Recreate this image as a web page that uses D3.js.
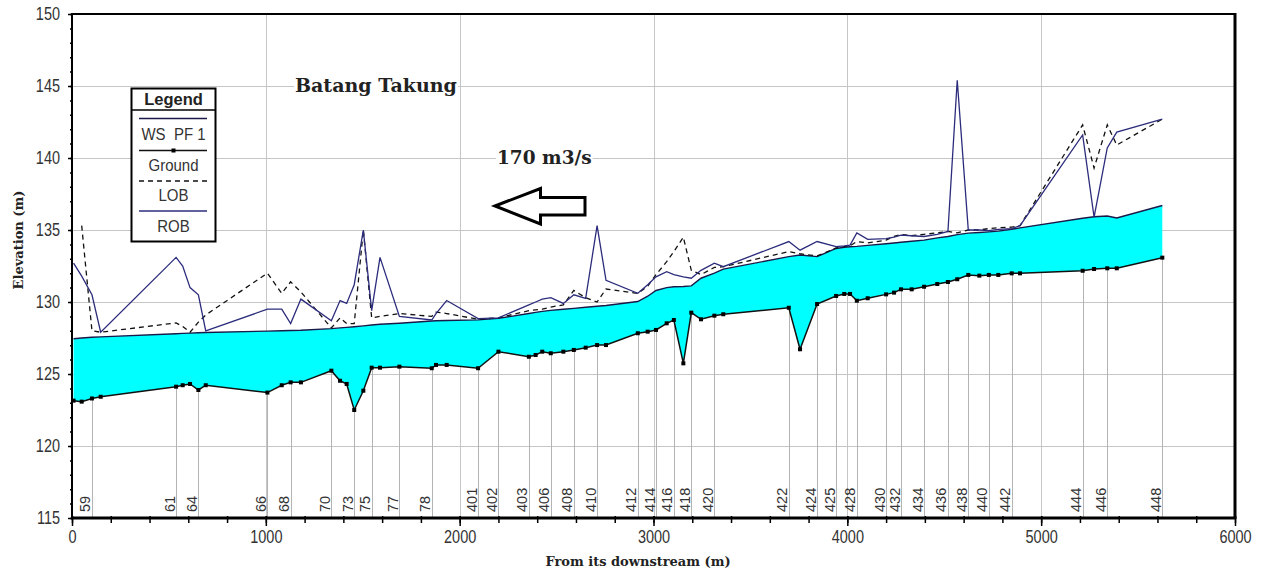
<!DOCTYPE html>
<html>
<head>
<meta charset="utf-8">
<script src="https://cdn.jsdelivr.net/npm/d3@7"></script>
<style>
  html, body { margin: 0; padding: 0; background: #fff; }
  svg { display: block; }
</style>
</head>
<body>
<svg id="chart" width="1265" height="573"></svg>
<script>
// Longitudinal profile of Batang Takung, stations measured from the downstream end (m)
const stations = [8, 50, 103, 148, 537, 571, 609, 652, 690, 1008, 1082, 1128, 1181, 1338, 1383, 1417, 1456, 1503, 1546, 1589,
  1689, 1856, 1878, 1933, 2095, 2200, 2357, 2392, 2426, 2470, 2535, 2589, 2650, 2709, 2755, 2919, 2970, 3013, 3068, 3105,
  3154, 3195, 3245, 3314, 3360, 3698, 3756, 3844, 3942, 3984, 4014, 4049, 4105, 4200, 4241, 4277, 4332, 4396, 4464, 4519,
  4567, 4624, 4681, 4730, 4779, 4848, 4891, 5214, 5273, 5341, 5390, 5625];

// Channel bed (minimum ground elevation), m
const groundElev = [123.15, 123.08, 123.30, 123.42, 124.12, 124.22, 124.31, 123.89, 124.22, 123.71,
  124.22, 124.42, 124.42, 125.23, 124.53, 124.31, 122.50, 123.84, 125.44, 125.44,
  125.51, 125.40, 125.63, 125.63, 125.40, 126.55, 126.20, 126.32, 126.55, 126.44,
  126.55, 126.67, 126.83, 127.01, 127.01, 127.83, 127.94, 128.06, 128.52, 128.75,
  125.74, 129.26, 128.80, 129.05, 129.15, 129.60, 126.72, 129.86, 130.42, 130.56,
  130.56, 130.09, 130.26, 130.53, 130.65, 130.88, 130.88, 131.06, 131.25, 131.39,
  131.58, 131.88, 131.83, 131.88, 131.88, 131.99, 131.99, 132.17, 132.29, 132.34, 132.34, 133.08];

// Water surface, profile PF 1 (170 m3/s)
const wsElev = [127.45, 127.50, 127.55, 127.58, 127.80, 127.82, 127.84, 127.86, 127.88, 127.98,
  128.00, 128.02, 128.04, 128.15, 128.20, 128.24, 128.28, 128.34, 128.40, 128.45,
  128.52, 128.68, 128.70, 128.72, 128.76, 128.86, 129.20, 129.28, 129.35, 129.42,
  129.50, 129.56, 129.64, 129.70, 129.76, 130.03, 130.40, 130.80, 131.00, 131.06,
  131.08, 131.12, 131.65, 132.00, 132.28, 133.15, 133.26, 133.15, 133.72, 133.80,
  133.84, 133.86, 133.93, 134.05, 134.10, 134.15, 134.22, 134.30, 134.45, 134.55,
  134.68, 134.78, 134.83, 134.87, 134.92, 135.05, 135.15, 135.82, 135.92, 135.97, 135.83, 136.70];

// Left overbank station elevation (first section has none)
const lobElev = [null, 135.3, 128.0, 127.9, 128.55, 128.3, 127.9, 128.6, 129.1, 132.0,
  130.6, 131.4, 130.7, 128.2, 128.9, 128.5, 128.5, 135.0, 128.9, 129.0,
  129.2, 129.0, 129.3, 129.2, 128.8, 128.9, 129.4, 129.45, 129.5, 129.65,
  129.8, 130.8, 130.3, 130.0, 130.9, 130.6, 131.1, 131.9, 132.8, 133.5,
  134.5, 132.2, 131.9, 132.4, 132.45, 133.5, 133.35, 133.2, 133.75, 133.85,
  133.9, 134.2, 134.1, 134.3, 134.55, 134.7, 134.6, 134.7, 134.8, 134.9,
  134.8, 135.0, 135.0, 135.1, 135.15, 135.2, 135.3, 142.3, 139.3, 142.3, 140.9, 142.7];

// Right overbank station elevation
const robElev = [132.7, 131.8, 130.5, 127.9, 133.1, 132.5, 131.0, 130.5, 128.0, 129.5,
  129.5, 128.5, 130.2, 128.7, 130.1, 129.9, 131.2, 135.0, 129.4, 133.1,
  129.0, 128.75, 129.2, 130.1, 128.85, 128.9, 129.8, 130.0, 130.2, 130.3,
  129.9, 130.5, 130.25, 135.3, 131.5, 130.6, 131.2, 131.75, 132.1, 131.9,
  131.75, 131.65, 132.2, 132.7, 132.45, 134.2, 133.6, 134.2, 133.85, 133.9,
  133.95, 134.8, 134.35, 134.4, 134.5, 134.65, 134.6, 134.55, 134.7, 134.9,
  145.4, 135.0, 135.0, 134.95, 135.05, 135.1, 135.3, 141.6, 135.9, 140.7, 141.8, 142.7];

// Labelled cross sections
const sectionIds = ["59", "61", "64", "66", "68", "70", "73", "75", "77", "78", "401", "402", "403", "406", "408", "410",
  "412", "414", "416", "418", "420", "422", "424", "425", "428", "430", "432", "434", "436", "438", "440", "442",
  "444", "446", "448"];
const sectionStations = [103, 537, 652, 1008, 1128, 1338, 1456, 1546, 1689, 1856, 2095, 2200, 2357, 2470, 2589, 2709,
  2919, 3013, 3105, 3195, 3314, 3698, 3844, 3942, 4049, 4200, 4277, 4396, 4519, 4624, 4730, 4848,
  5214, 5341, 5625];

const xTickValues = [0, 1000, 2000, 3000, 4000, 5000, 6000];
const yTickValues = [115, 120, 125, 130, 135, 140, 145, 150];
const legendNames = ["WS  PF 1", "Ground", "LOB", "ROB"];

const chartTitle = "Batang Takung";
const flowNote = "170 m3/s";
const xTitle = "From its downstream (m)";
const yTitle = "Elevation (m)";

// ---------------------------------------------------------------------------
const svg = d3.select("#chart");
const plot = { left: 72, right: 1235, top: 14, bottom: 518 };
const x = d3.scaleLinear().domain([0, 6000]).range([plot.left, plot.right]);
const y = d3.scaleLinear().domain([115, 150]).range([plot.bottom, plot.top]);

const sansFont = "Arial, 'Liberation Sans', sans-serif";
const serifFont = "'DejaVu Serif', Cambria, serif";
const navy = "#2c2c7c";

const rows = stations.map((s, i) => ({
  s, g: groundElev[i], ws: wsElev[i], lob: lobElev[i], rob: robElev[i]
}));

const groundAt = s => {
  const i = d3.bisectLeft(stations, s);
  if (stations[i] === s) return groundElev[i];
  const t = (s - stations[i - 1]) / (stations[i] - stations[i - 1]);
  return groundElev[i - 1] + t * (groundElev[i] - groundElev[i - 1]);
};

// grid
const grid = svg.append("g").attr("stroke", "#c6c6c6").attr("stroke-width", 1);
grid.selectAll("line.h").data(yTickValues.slice(1, -1)).join("line")
  .attr("x1", plot.left).attr("x2", plot.right)
  .attr("y1", d => Math.round(y(d)) + 0.5).attr("y2", d => Math.round(y(d)) + 0.5);
grid.selectAll("line.v").data(xTickValues.slice(1, -1)).join("line")
  .attr("y1", plot.top).attr("y2", plot.bottom)
  .attr("x1", d => Math.round(x(d)) + 0.5).attr("x2", d => Math.round(x(d)) + 0.5);

// cross-section stems from the axis up to the bed
svg.append("g").attr("stroke", "#b4b4b4").attr("stroke-width", 1)
  .selectAll("line").data(sectionStations).join("line")
  .attr("x1", d => Math.round(x(d)) + 0.5).attr("x2", d => Math.round(x(d)) + 0.5)
  .attr("y1", plot.bottom).attr("y2", d => y(groundAt(d)));

// flow area between bed and water surface
svg.append("path").datum(rows)
  .attr("fill", "#00ffff")
  .attr("d", d3.area().x(d => x(d.s)).y0(d => y(d.g)).y1(d => y(d.ws)));

// water surface
svg.append("path").datum(rows)
  .attr("fill", "none").attr("stroke", "#1a1a4a").attr("stroke-width", 1.4)
  .attr("d", d3.line().x(d => x(d.s)).y(d => y(d.ws)));

// bank stations
svg.append("path").datum(rows)
  .attr("fill", "none").attr("stroke", "#111").attr("stroke-width", 1.3)
  .attr("stroke-dasharray", "5,4")
  .attr("d", d3.line().defined(d => d.lob != null).x(d => x(d.s)).y(d => y(d.lob)));
svg.append("path").datum(rows)
  .attr("fill", "none").attr("stroke", navy).attr("stroke-width", 1.3)
  .attr("d", d3.line().x(d => x(d.s)).y(d => y(d.rob)));

// ground line with markers
svg.append("path").datum(rows)
  .attr("fill", "none").attr("stroke", "#111").attr("stroke-width", 1.5)
  .attr("d", d3.line().x(d => x(d.s)).y(d => y(d.g)));
svg.append("g").selectAll("rect").data(rows).join("rect")
  .attr("x", d => x(d.s) - 2).attr("y", d => y(d.g) - 2)
  .attr("width", 4).attr("height", 4).attr("fill", "#000");

// section labels
svg.append("g").selectAll("text").data(sectionStations).join("text")
  .attr("transform", d => `translate(${x(d) - 1.5},512) rotate(-90)`)
  .attr("font-family", sansFont).attr("font-size", 14.5).attr("fill", "#333")
  .text((d, i) => sectionIds[i]);

// axes
const yAxis = svg.append("g").attr("transform", `translate(${plot.left},0)`)
  .call(d3.axisLeft(y).tickValues(yTickValues).tickSize(4).tickPadding(8).tickFormat(d3.format("d")));
const yMinor = svg.append("g").attr("transform", `translate(${plot.left},0)`)
  .call(d3.axisLeft(y).tickValues(d3.range(115, 151)).tickSize(2).tickFormat(""));
const xAxis = svg.append("g").attr("transform", `translate(0,${plot.bottom})`)
  .call(d3.axisBottom(x).tickValues(xTickValues).tickSize(8).tickFormat(d3.format("d")));
const xMinor = svg.append("g").attr("transform", `translate(0,${plot.bottom})`)
  .call(d3.axisBottom(x).tickValues(d3.range(0, 6001, 200)).tickSize(5).tickFormat(""));

[yAxis, yMinor, xAxis, xMinor].forEach(a => {
  a.select(".domain").remove();
  a.selectAll(".tick line").attr("stroke", "#000").attr("stroke-width", 1.5);
});
xAxis.selectAll(".tick line").attr("y1", -2);
xMinor.selectAll(".tick line").attr("y1", -2);

yAxis.selectAll(".tick text")
  .attr("font-family", sansFont).attr("font-size", 14.5).attr("fill", "#333")
  .attr("transform", "scale(1,1.26)");
xAxis.selectAll(".tick text")
  .attr("font-family", sansFont).attr("font-size", 14.5).attr("fill", "#333")
  .attr("y", 0).attr("dy", 0)
  .attr("transform", "translate(0,25) scale(1,1.3)");

// frame
const frame = svg.append("g").attr("stroke", "#000").attr("fill", "none");
frame.append("line").attr("x1", plot.left).attr("x2", plot.right).attr("y1", plot.top).attr("y2", plot.top).attr("stroke-width", 2);
frame.append("line").attr("x1", plot.right).attr("x2", plot.right).attr("y1", plot.top - 1).attr("y2", plot.bottom + 1).attr("stroke-width", 3);
frame.append("line").attr("x1", plot.left).attr("x2", plot.left).attr("y1", plot.top - 1).attr("y2", plot.bottom + 1).attr("stroke-width", 2);
frame.append("line").attr("x1", plot.left - 1).attr("x2", plot.right + 1).attr("y1", plot.bottom).attr("y2", plot.bottom).attr("stroke-width", 3);

// axis titles
svg.append("text").attr("x", 638).attr("y", 566).attr("text-anchor", "middle")
  .attr("font-family", serifFont).attr("font-weight", "bold").attr("font-size", 13).attr("fill", "#222")
  .text(xTitle);
svg.append("text").attr("transform", "translate(22.5,240) rotate(-90)").attr("text-anchor", "middle")
  .attr("font-family", serifFont).attr("font-weight", "bold").attr("font-size", 13).attr("fill", "#222")
  .text(yTitle);

// boxed notes: river name and discharge
function note(txt, px, py, size) {
  const g = svg.append("g");
  const t = g.append("text").attr("x", px).attr("y", py)
    .attr("font-family", serifFont).attr("font-weight", "bold").attr("font-size", size).attr("fill", "#222")
    .text(txt);
  const b = t.node().getBBox();
  g.insert("rect", "text").attr("x", b.x - 1).attr("y", b.y).attr("width", b.width + 2).attr("height", b.height)
    .attr("fill", "#fff");
}
note(chartTitle, 295, 92, 19);
note(flowNote, 497, 163.5, 18.5);

// flow direction arrow (pointing downstream, to the left)
svg.append("path")
  .attr("d", "M495,206 L540.5,188.5 L540.5,197.5 L585,197.5 L585,215 L540.5,215 L540.5,224 Z")
  .attr("fill", "#fff").attr("stroke", "#000").attr("stroke-width", 3).attr("stroke-linejoin", "miter");

// legend
const lg = svg.append("g");
const L = { x0: 131.5, x1: 215.5, y0: 88.5, y1: 241.5 };
const cx = (L.x0 + L.x1) / 2;
lg.append("rect").attr("x", L.x0).attr("y", L.y0).attr("width", L.x1 - L.x0).attr("height", L.y1 - L.y0)
  .attr("fill", "#fff").attr("stroke", "#000").attr("stroke-width", 2);
lg.append("line").attr("x1", L.x0).attr("x2", L.x1).attr("y1", 110).attr("y2", 110)
  .attr("stroke", "#000").attr("stroke-width", 1.5);
lg.append("text").attr("x", cx).attr("y", 104.5).attr("text-anchor", "middle")
  .attr("font-family", sansFont).attr("font-weight", "bold").attr("font-size", 16.5).attr("fill", "#222")
  .text("Legend");

const legendRows = [
  { name: legendNames[0], ly: 118.5, ty: 140, stroke: "#1a1a4a", dash: null, marker: false },
  { name: legendNames[1], ly: 150.5, ty: 170.5, stroke: "#111", dash: null, marker: true },
  { name: legendNames[2], ly: 181, ty: 200.5, stroke: "#111", dash: "5,4", marker: false },
  { name: legendNames[3], ly: 211, ty: 232, stroke: navy, dash: null, marker: false }
];
legendRows.forEach(r => {
  lg.append("line").attr("x1", 139).attr("x2", 207).attr("y1", r.ly).attr("y2", r.ly)
    .attr("stroke", r.stroke).attr("stroke-width", 1.4).attr("stroke-dasharray", r.dash);
  if (r.marker) lg.append("rect").attr("x", cx - 2).attr("y", r.ly - 2).attr("width", 4).attr("height", 4).attr("fill", "#000");
  lg.append("text").attr("transform", `translate(${cx},${r.ty}) scale(1,1.12)`).attr("text-anchor", "middle")
    .attr("font-family", sansFont).attr("font-size", 15).attr("fill", "#333")
    .style("white-space", "pre").text(r.name);
});
</script>
</body>
</html>
